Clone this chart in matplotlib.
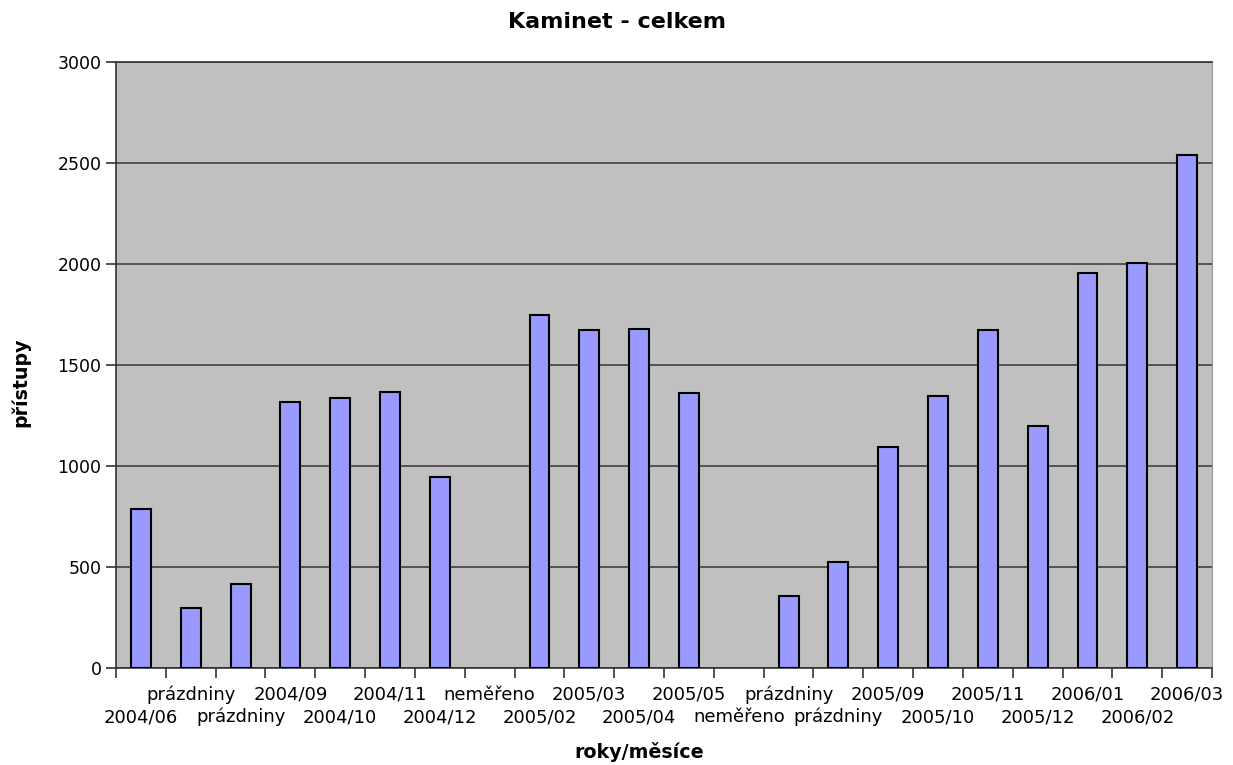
import matplotlib.pyplot as plt
import numpy as np

months = ["2004/06", "prázdniny", "prázdniny", "2004/09", "2004/10", "2004/11",
          "2004/12", "neměřeno", "2005/02", "2005/03", "2005/04", "2005/05",
          "neměřeno", "prázdniny", "prázdniny", "2005/09", "2005/10", "2005/11",
          "2005/12", "2006/01", "2006/02", "2006/03"]
access = [787, 297, 416, 1317, 1337, 1366, 945, np.nan, 1747, 1673, 1678, 1361,
          np.nan, 356, 525, 1094, 1346, 1673, 1198, 1955, 2005, 2540]
yticks = [0, 500, 1000, 1500, 2000, 2500, 3000]

fig = plt.figure(figsize=(12.33, 7.65), dpi=100)
ax = fig.add_axes([0.0941, 0.1268, 0.8889, 0.7922])
ax.set_facecolor("#c0c0c0")

x = np.arange(len(months))
ax.bar(x, access, width=0.4, color="#9999ff", edgecolor="black", linewidth=1.5, zorder=3)

ax.set_xlim(-0.5, len(months) - 0.5)
ax.set_ylim(0, 3000)
ax.set_yticks(yticks)
ax.yaxis.grid(True, color="#404040", linewidth=1.2, zorder=1)
ax.tick_params(axis="y", labelsize=12.5, length=7, width=1.2, color="#333333")

# ticks on category boundaries, labels on centres in two staggered rows
ax.set_xticks(np.arange(len(months) + 1) - 0.5)
ax.set_xticklabels([])
ax.tick_params(axis="x", length=7, width=1.2, color="#333333")
for i, m in enumerate(months):
    off = -39 if i % 2 == 0 else -23
    ax.annotate(m, xy=(i, 0), xycoords=("data", "axes fraction"),
                xytext=(0, off), textcoords="offset points",
                ha="center", va="baseline", fontsize=13)

for s in ["left", "bottom", "top"]:
    ax.spines[s].set_color("#333333")
    ax.spines[s].set_linewidth(1.2)
ax.spines["right"].set_color("#999999")

fig.text(0.5, 0.971, "Kaminet - celkem", ha="center", va="center", fontsize=16, fontweight="bold")
fig.text(0.5187, 0.017, "roky/měsíce", ha="center", va="center", fontsize=13.7, fontweight="bold")
fig.text(0.017, 0.5, "přístupy", ha="center", va="center", rotation=90, fontsize=13.7, fontweight="bold")

fig.savefig("out.png", dpi=100)
